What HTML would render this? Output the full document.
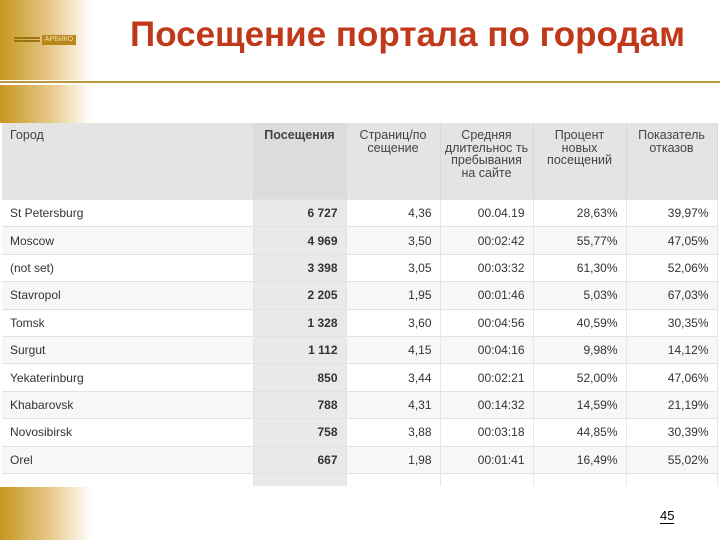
<!DOCTYPE html>
<html><head><meta charset="utf-8"><style>
body{margin:0;width:720px;height:540px;position:relative;overflow:hidden;background:#fff;font-family:"Liberation Sans",sans-serif}
.grad{position:absolute;left:0;width:92px;background:linear-gradient(to right,#c8961e,#e6c98a 55%,#fff)}
.title{position:absolute;left:100px;width:615px;top:15px;text-align:center;font-size:35px;font-weight:bold;color:#c0391b;white-space:nowrap}
.line{position:absolute;left:0;width:720px;top:81px;height:1.5px;background:#b89a3a}
table{position:absolute;left:2px;top:123px;width:715px;border-collapse:collapse;font-size:12px;color:#333;table-layout:fixed}
th{background:#e4e4e4;font-weight:normal;color:#444;vertical-align:top;height:70px;padding:6px 4px 0;font-size:12.5px;line-height:12.5px;border-right:1px solid #d8d8d8}
td{height:26.4px;padding:0 8px;text-align:right;border-top:1px solid #e2e2e2;border-right:1px solid #e6e6e6}
td:first-child{text-align:left}
tr:nth-child(even) td{background:#f7f7f7}
td.v{background:#e9e9e9!important;font-weight:bold}
tr.sp td{height:12px;font-size:0;line-height:0;padding:0;background:#fff}
</style></head><body>
<div class="grad" style="top:0;height:80px"></div>
<div class="grad" style="top:85px;height:38px"></div>
<div class="grad" style="top:487px;height:53px"></div>
<div style="position:absolute;left:14px;top:37px;width:26px;height:2px;background:#9a7410;box-shadow:0 3px 0 #9a7410"></div>
<div style="position:absolute;left:42px;top:35px;width:34px;height:10px;background:#b8861a;color:#f3e2b0;font-size:7px;line-height:10px;text-align:center">АРБИКО</div>
<div class="title">Посещение портала по городам</div>
<div class="line"></div>
<table>
<colgroup><col style="width:251px"><col style="width:93px"><col style="width:94px"><col style="width:93px"><col style="width:93px"><col style="width:91px"></colgroup>
<tr>
<th style="text-align:left;padding-left:8px">Город</th>
<th style="font-weight:bold;background:#dcdcdc">Посещения</th>
<th>Страниц/по сещение</th>
<th>Средняя длительнос ть пребывания на сайте</th>
<th>Процент новых посещений</th>
<th>Показатель отказов</th>
</tr>
<tbody id="tb"></tbody>
</table>
<div style="position:absolute;left:660px;top:509px;font-size:13px;color:#000;border-bottom:1px solid #000;line-height:14px">45</div>
<script>
const cities=["St Petersburg","Moscow","(not set)","Stavropol","Tomsk","Surgut","Yekaterinburg","Khabarovsk","Novosibirsk","Orel"];
const visits=["6 727","4 969","3 398","2 205","1 328","1 112","850","788","758","667"];
const pages=["4,36","3,50","3,05","1,95","3,60","4,15","3,44","4,31","3,88","1,98"];
const durations=["00.04.19","00:02:42","00:03:32","00:01:46","00:04:56","00:04:16","00:02:21","00:14:32","00:03:18","00:01:41"];
const newPct=["28,63%","55,77%","61,30%","5,03%","40,59%","9,98%","52,00%","14,59%","44,85%","16,49%"];
const bounce=["39,97%","47,05%","52,06%","67,03%","30,35%","14,12%","47,06%","21,19%","30,39%","55,02%"];
const tb=document.getElementById('tb');
cities.forEach((c,i)=>{
const tr=document.createElement('tr');


[c,visits[i],pages[i],durations[i],newPct[i],bounce[i]].forEach((v,j)=>{
const td=document.createElement('td');
td.textContent=v;
if(j===1)td.className='v';


tr.appendChild(td);});
tb.appendChild(tr);});
const last=document.createElement('tr');
last.className='sp';


last.innerHTML='<td></td><td class="v"></td><td></td><td></td><td></td><td></td>';
tb.appendChild(last);
</script>
</body></html>
